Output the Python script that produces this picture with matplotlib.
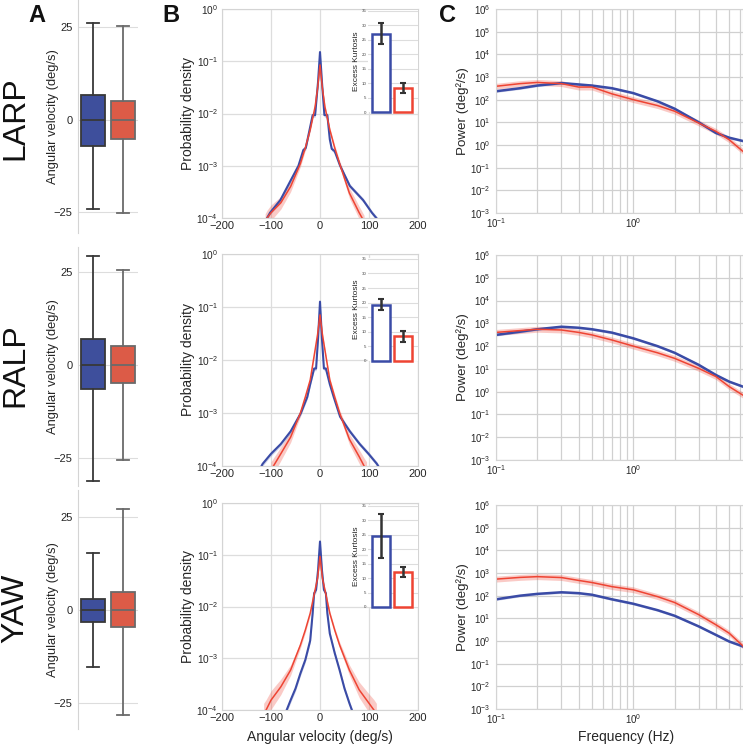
import numpy as np
import matplotlib
matplotlib.use('Agg')
import matplotlib.pyplot as plt
from matplotlib.ticker import FixedLocator, NullFormatter

plt.rcParams['font.family'] = ['Liberation Sans', 'DejaVu Sans']

W, H = 743, 744
row_names = ['LARP', 'RALP', 'YAW']

# ---------------- Panel A: box statistics (deg/s) ----------------
box_med = [[0, 0], [0, 0], [0, 0]]
box_q1 = [[-7.0, -5.2], [-6.5, -4.8], [-3.1, -4.6]]
box_q3 = [[6.7, 5.1], [7.0, 5.2], [3.1, 4.8]]
box_lo = [[-24.0, -25.3], [-31.2, -25.5], [-15.3, -28.3]]
box_hi = [[26.2, 25.4], [29.3, 25.5], [15.4, 27.3]]

# ---------------- Panel B inset: excess kurtosis ----------------
kurt_mean = [[26.9, 8.3], [19.3, 8.4], [24.6, 12.2]]
kurt_lo = [[23.5, 6.6], [17.6, 6.4], [17.0, 10.4]]
kurt_hi = [[30.7, 10.0], [21.3, 10.4], [32.1, 13.7]]

# ---------------- Panel B: probability density ----------------
pdf_blue_x = [
    [-112, -108, -102, -81, -61, -44, -34, -29, -15, -10, -4, 0, 4, 9, 15, 20, 24, 30, 41, 61, 88, 106, 115, 120],
    [-125, -117, -100, -80, -60, -39, -26, -20, -12, -8, -4, 0, 4, 8, 12, 20, 28, 41, 61, 81, 99, 116, 125],
    [-72, -68, -60, -50, -40, -30, -20, -15, -12, -8, -4, 0, 4, 8, 12, 15, 20, 30, 40, 50, 60, 65, 68],
]
pdf_blue_y = [
    [8.5e-5, 1.0e-4, 1.26e-4, 2.2e-4, 5.0e-4, 1.0e-3, 2.0e-3, 2.2e-3, 9.3e-3, 9.3e-3, 4.0e-2, 0.15,
     4.0e-2, 9.3e-3, 9.3e-3, 3.2e-3, 2.1e-3, 1.9e-3, 1.0e-3, 4.1e-4, 2.2e-4, 1.26e-4, 1.0e-4, 8.5e-5],
    [8.0e-5, 1.1e-4, 1.7e-4, 2.6e-4, 4.5e-4, 1.0e-3, 2.0e-3, 3.5e-3, 6.9e-3, 6.9e-3, 2.5e-2, 0.126,
     2.5e-2, 6.9e-3, 6.9e-3, 3.5e-3, 2.0e-3, 8.5e-4, 4.5e-4, 2.6e-4, 1.7e-4, 1.1e-4, 8.0e-5],
    [8.5e-5, 1.0e-4, 1.55e-4, 2.6e-4, 5.1e-4, 9.3e-4, 2.2e-3, 7.4e-3, 1.8e-2, 2.1e-2, 5.0e-2, 0.18,
     5.0e-2, 2.1e-2, 1.8e-2, 7.4e-3, 3.0e-3, 1.26e-3, 5.9e-4, 2.6e-4, 1.35e-4, 1.0e-4, 8.5e-5],
]
pdf_blue_spread = [0.04, 0.04, 0.05]  # half-width of shaded band, decades

pdf_red_x = [
    [-112, -108, -100, -80, -60, -40, -30, -20, -10, -5, 0, 5, 10, 20, 30, 40, 60, 80, 86, 90],
    [-100, -95, -80, -60, -40, -30, -20, -10, -5, 0, 5, 10, 20, 30, 40, 60, 80, 90, 95],
    [-115, -110, -100, -80, -60, -40, -30, -20, -10, -5, 0, 5, 10, 20, 30, 40, 60, 80, 100, 110, 115],
]
pdf_red_y = [
    [8.5e-5, 1.0e-4, 1.26e-4, 1.95e-4, 4.0e-4, 1.1e-3, 2.2e-3, 4.9e-3, 1.35e-2, 3.0e-2, 8.5e-2,
     3.0e-2, 1.35e-2, 4.9e-3, 2.2e-3, 1.1e-3, 3.0e-4, 1.26e-4, 1.0e-4, 8.5e-5],
    [8.5e-5, 1.0e-4, 1.7e-4, 3.5e-4, 1.0e-3, 2.0e-3, 4.2e-3, 1.55e-2, 3.0e-2, 7.1e-2, 3.0e-2,
     1.55e-2, 4.2e-3, 2.0e-3, 1.0e-3, 3.2e-4, 1.5e-4, 1.0e-4, 8.5e-5],
    [8.5e-5, 1.0e-4, 1.55e-4, 2.8e-4, 5.9e-4, 1.8e-3, 3.5e-3, 7.4e-3, 2.1e-2, 3.5e-2, 9.3e-2, 3.5e-2,
     2.1e-2, 7.4e-3, 3.5e-3, 1.8e-3, 5.9e-4, 2.45e-4, 1.35e-4, 1.0e-4, 8.5e-5],
]
pdf_red_spread = [
    [0.15, 0.15, 0.15, 0.12, 0.1, 0.06, 0.05, 0.04, 0.03, 0.03, 0.02, 0.03, 0.03, 0.04, 0.05, 0.06, 0.1, 0.12, 0.12, 0.12],
    [0.15, 0.15, 0.13, 0.1, 0.06, 0.05, 0.04, 0.03, 0.03, 0.02, 0.03, 0.03, 0.04, 0.05, 0.06, 0.1, 0.13, 0.15, 0.15],
    [0.2, 0.2, 0.18, 0.15, 0.1, 0.06, 0.05, 0.04, 0.03, 0.03, 0.02, 0.03, 0.03, 0.04, 0.05, 0.06, 0.1, 0.15, 0.18, 0.2, 0.2],
]

# ---------------- Panel C: power spectra ----------------
psd_f = [0.1, 0.15, 0.2, 0.3, 0.4, 0.5, 0.7, 1.0, 1.5, 2.0, 3.0, 4.0, 5.0, 6.3]
psd_blue = [
    [235, 320, 420, 540, 470, 420, 320, 195, 85, 40, 10, 3.4, 2.1, 1.5],
    [310, 430, 550, 710, 640, 550, 390, 220, 100, 51, 15, 5.4, 2.75, 1.66],
    [69, 100, 120, 141, 129, 110, 69, 44, 23, 13, 4.4, 1.86, 0.95, 0.575],
]
psd_red = [
    [390, 510, 575, 510, 360, 360, 180, 100, 55, 31, 9.3, 4.0, 1.7, 0.52],
    [400, 480, 550, 510, 400, 310, 185, 100, 51, 29, 10.5, 4.6, 1.66, 0.7],
    [537, 640, 690, 630, 470, 380, 250, 182, 91, 50, 14.5, 5.2, 2.2, 0.6],
]
psd_blue_spread = 0.05
psd_red_spread = 0.13

# ---------------- style ----------------
BLUE = '#3a4ba6'
RED = '#ee4433'
BOX_FC = ['#3e4f9c', '#dc5b47']
BOX_EC = ['#383838', '#6a6a6a']
GRID = '#dddddd'
SPINE = '#d4d4d4'
TXT = '#262626'

fig = plt.figure(figsize=(W / 100, H / 100), dpi=100)


def ax_at(x0, y0, x1, y1):
    return fig.add_axes([x0 / W, 1 - y1 / H, (x1 - x0) / W, (y1 - y0) / H])


A_rows = [(0, 233), (247, 486), (490, 729)]
A_ylim = [(-30.6, 32.3), (-32.5, 31.7), (-32.0, 32.4)]
B_rows = [(9, 218), (254, 466), (503, 710)]
C_rows = [(9, 213), (255, 460), (505, 709)]
INSET_rows = [(10, 112), (258, 361), (505, 607)]
label_y = [118, 365, 608]

for i in range(3):
    # ---- A ----
    y0, y1 = A_rows[i]
    ax = ax_at(78, y0, 138, y1)
    stats = [dict(med=box_med[i][k], q1=box_q1[i][k], q3=box_q3[i][k],
                  whislo=box_lo[i][k], whishi=box_hi[i][k], fliers=[]) for k in range(2)]
    bp = ax.bxp(stats, positions=[0, 1], widths=0.8, capwidths=0.4,
                patch_artist=True, showfliers=False)
    for k in range(2):
        bp['boxes'][k].set(facecolor=BOX_FC[k], edgecolor=BOX_EC[k], linewidth=1.3)
        bp['medians'][k].set(color=BOX_EC[k], linewidth=1.3)
        for j in (2 * k, 2 * k + 1):
            bp['whiskers'][j].set(color=BOX_EC[k], linewidth=1.3)
            bp['caps'][j].set(color=BOX_EC[k], linewidth=1.3)
    ax.set_xlim(-0.5, 1.5)
    ax.set_ylim(*A_ylim[i])
    ax.set_yticks([-25, 0, 25])
    ax.set_xticks([])
    ax.yaxis.grid(True, color=GRID, lw=0.8)
    ax.set_axisbelow(True)
    for s in ['top', 'right', 'bottom']:
        ax.spines[s].set_visible(False)
    ax.spines['left'].set_color(SPINE)
    ax.tick_params(axis='y', length=0, pad=4, labelsize=8, labelcolor=TXT)
    fig.text(53 / W, 1 - (y0 + y1) / 2 / H, 'Angular velocity (deg/s)', rotation=90,
             ha='center', va='center', fontsize=9.3, color=TXT)
    fig.text(15 / W, 1 - label_y[i] / H, row_names[i], rotation=90,
             ha='center', va='center', fontsize=23, color='#111111')

    # ---- B ----
    y0, y1 = B_rows[i]
    ax = ax_at(222, y0, 418, y1)
    bx = np.array(pdf_blue_x[i]); byv = np.array(pdf_blue_y[i])
    rx = np.array(pdf_red_x[i]); ryv = np.array(pdf_red_y[i]); rs = np.array(pdf_red_spread[i])
    ax.fill_between(rx, ryv / 10 ** rs, ryv * 10 ** rs, color=RED, alpha=0.28, lw=0)
    ax.fill_between(bx, byv / 10 ** pdf_blue_spread[i], byv * 10 ** pdf_blue_spread[i],
                    color=BLUE, alpha=0.25, lw=0)
    ax.plot(bx, byv, color=BLUE, lw=1.5)
    ax.plot(rx, ryv, color=RED, lw=1.1)
    ax.set_yscale('log')
    ax.set_ylim(1e-4, 1)
    ax.set_xlim(-200, 200)
    ax.set_xticks([-200, -100, 0, 100, 200])
    ax.yaxis.set_major_locator(FixedLocator([1e-4, 1e-3, 1e-2, 1e-1, 1]))
    ax.yaxis.set_minor_locator(FixedLocator([]))
    ax.grid(True, color=GRID, lw=0.9)
    ax.set_axisbelow(True)
    for s in ax.spines.values():
        s.set_color(SPINE)
    ax.tick_params(length=0, labelcolor=TXT)
    ax.tick_params(axis='y', pad=3, labelsize=7.3)
    ax.tick_params(axis='x', pad=2, labelsize=8)
    fig.text(188 / W, 1 - (y0 + y1) / 2 / H, 'Probability density', rotation=90,
             ha='center', va='center', fontsize=10, color=TXT)

    # ---- inset ----
    iy0, iy1 = INSET_rows[i]
    ins = ax_at(368, iy0, 418, iy1)
    ins.set_facecolor('white')
    for k, col in enumerate([BLUE, RED]):
        ins.bar(k, kurt_mean[i][k], width=0.86, facecolor='white', edgecolor=col,
                linewidth=1.8, clip_on=False, zorder=2)
        m = kurt_mean[i][k]
        ins.errorbar(k, m, yerr=[[m - kurt_lo[i][k]], [kurt_hi[i][k] - m]], color='#333333',
                     lw=1.8, capsize=2, capthick=1.5, zorder=3, clip_on=False)
    ins.set_xlim(-0.59, 1.68)
    ins.set_ylim(0, 35.3)
    ins.set_yticks(range(0, 36, 5))
    ins.set_xticks([])
    ins.yaxis.grid(True, color=GRID, lw=0.8)
    ins.set_axisbelow(True)
    for s in ins.spines.values():
        s.set_visible(False)
    ins.tick_params(length=0, labelsize=3.2, pad=1, labelcolor='#444444')
    ins.set_ylabel('Excess Kurtosis', fontsize=6, labelpad=1.5, color=TXT)

    # ---- C ----
    y0, y1 = C_rows[i]
    ax = ax_at(496, y0, 743, y1)
    f = np.array(psd_f)
    pb = np.array(psd_blue[i]); pr = np.array(psd_red[i])
    ax.fill_between(f, pr / 10 ** psd_red_spread, pr * 10 ** psd_red_spread, color=RED, alpha=0.28, lw=0)
    ax.fill_between(f, pb / 10 ** psd_blue_spread, pb * 10 ** psd_blue_spread, color=BLUE, alpha=0.25, lw=0)
    ax.plot(f, pb, color=BLUE, lw=1.8)
    ax.plot(f, pr, color=RED, lw=1.1)
    ax.set_xscale('log'); ax.set_yscale('log')
    ax.set_xlim(0.1, 6.3)
    ax.set_ylim(1e-3, 1e6)
    ax.yaxis.set_major_locator(FixedLocator([10.0 ** e for e in range(-3, 7)]))
    ax.yaxis.set_minor_locator(FixedLocator([]))
    ax.xaxis.set_major_locator(FixedLocator([0.1, 1.0]))
    ax.xaxis.set_minor_locator(FixedLocator([0.2, 0.3, 0.4, 0.5, 0.6, 0.7, 0.8, 0.9, 2, 3, 4, 5, 6]))
    ax.xaxis.set_minor_formatter(NullFormatter())
    ax.grid(True, which='major', color='#d0d0d0', lw=0.9)
    ax.xaxis.grid(True, which='minor', color='#d0d0d0', lw=0.9)
    ax.set_axisbelow(True)
    for s in ax.spines.values():
        s.set_color(SPINE)
    ax.tick_params(which='both', length=0, labelsize=7, labelcolor=TXT)
    ax.tick_params(axis='y', pad=4)
    ax.tick_params(axis='x', pad=2)
    fig.text(463 / W, 1 - (y0 + y1) / 2 / H, 'Power (deg\u00b2/s)', rotation=90,
             ha='center', va='center', fontsize=9.6, color=TXT)

fig.text(320 / W, 1 - 737 / H, 'Angular velocity (deg/s)', ha='center', va='center',
         fontsize=10, color=TXT)
fig.text(626 / W, 1 - 737 / H, 'Frequency (Hz)', ha='center', va='center',
         fontsize=10, color=TXT)

for letter, x in [('A', 37), ('B', 171), ('C', 448)]:
    fig.text(x / W, 1 - 15 / H, letter, ha='center', va='center', fontsize=17,
             fontweight='bold', color='#111111')

fig.savefig('out.png', dpi=100)
